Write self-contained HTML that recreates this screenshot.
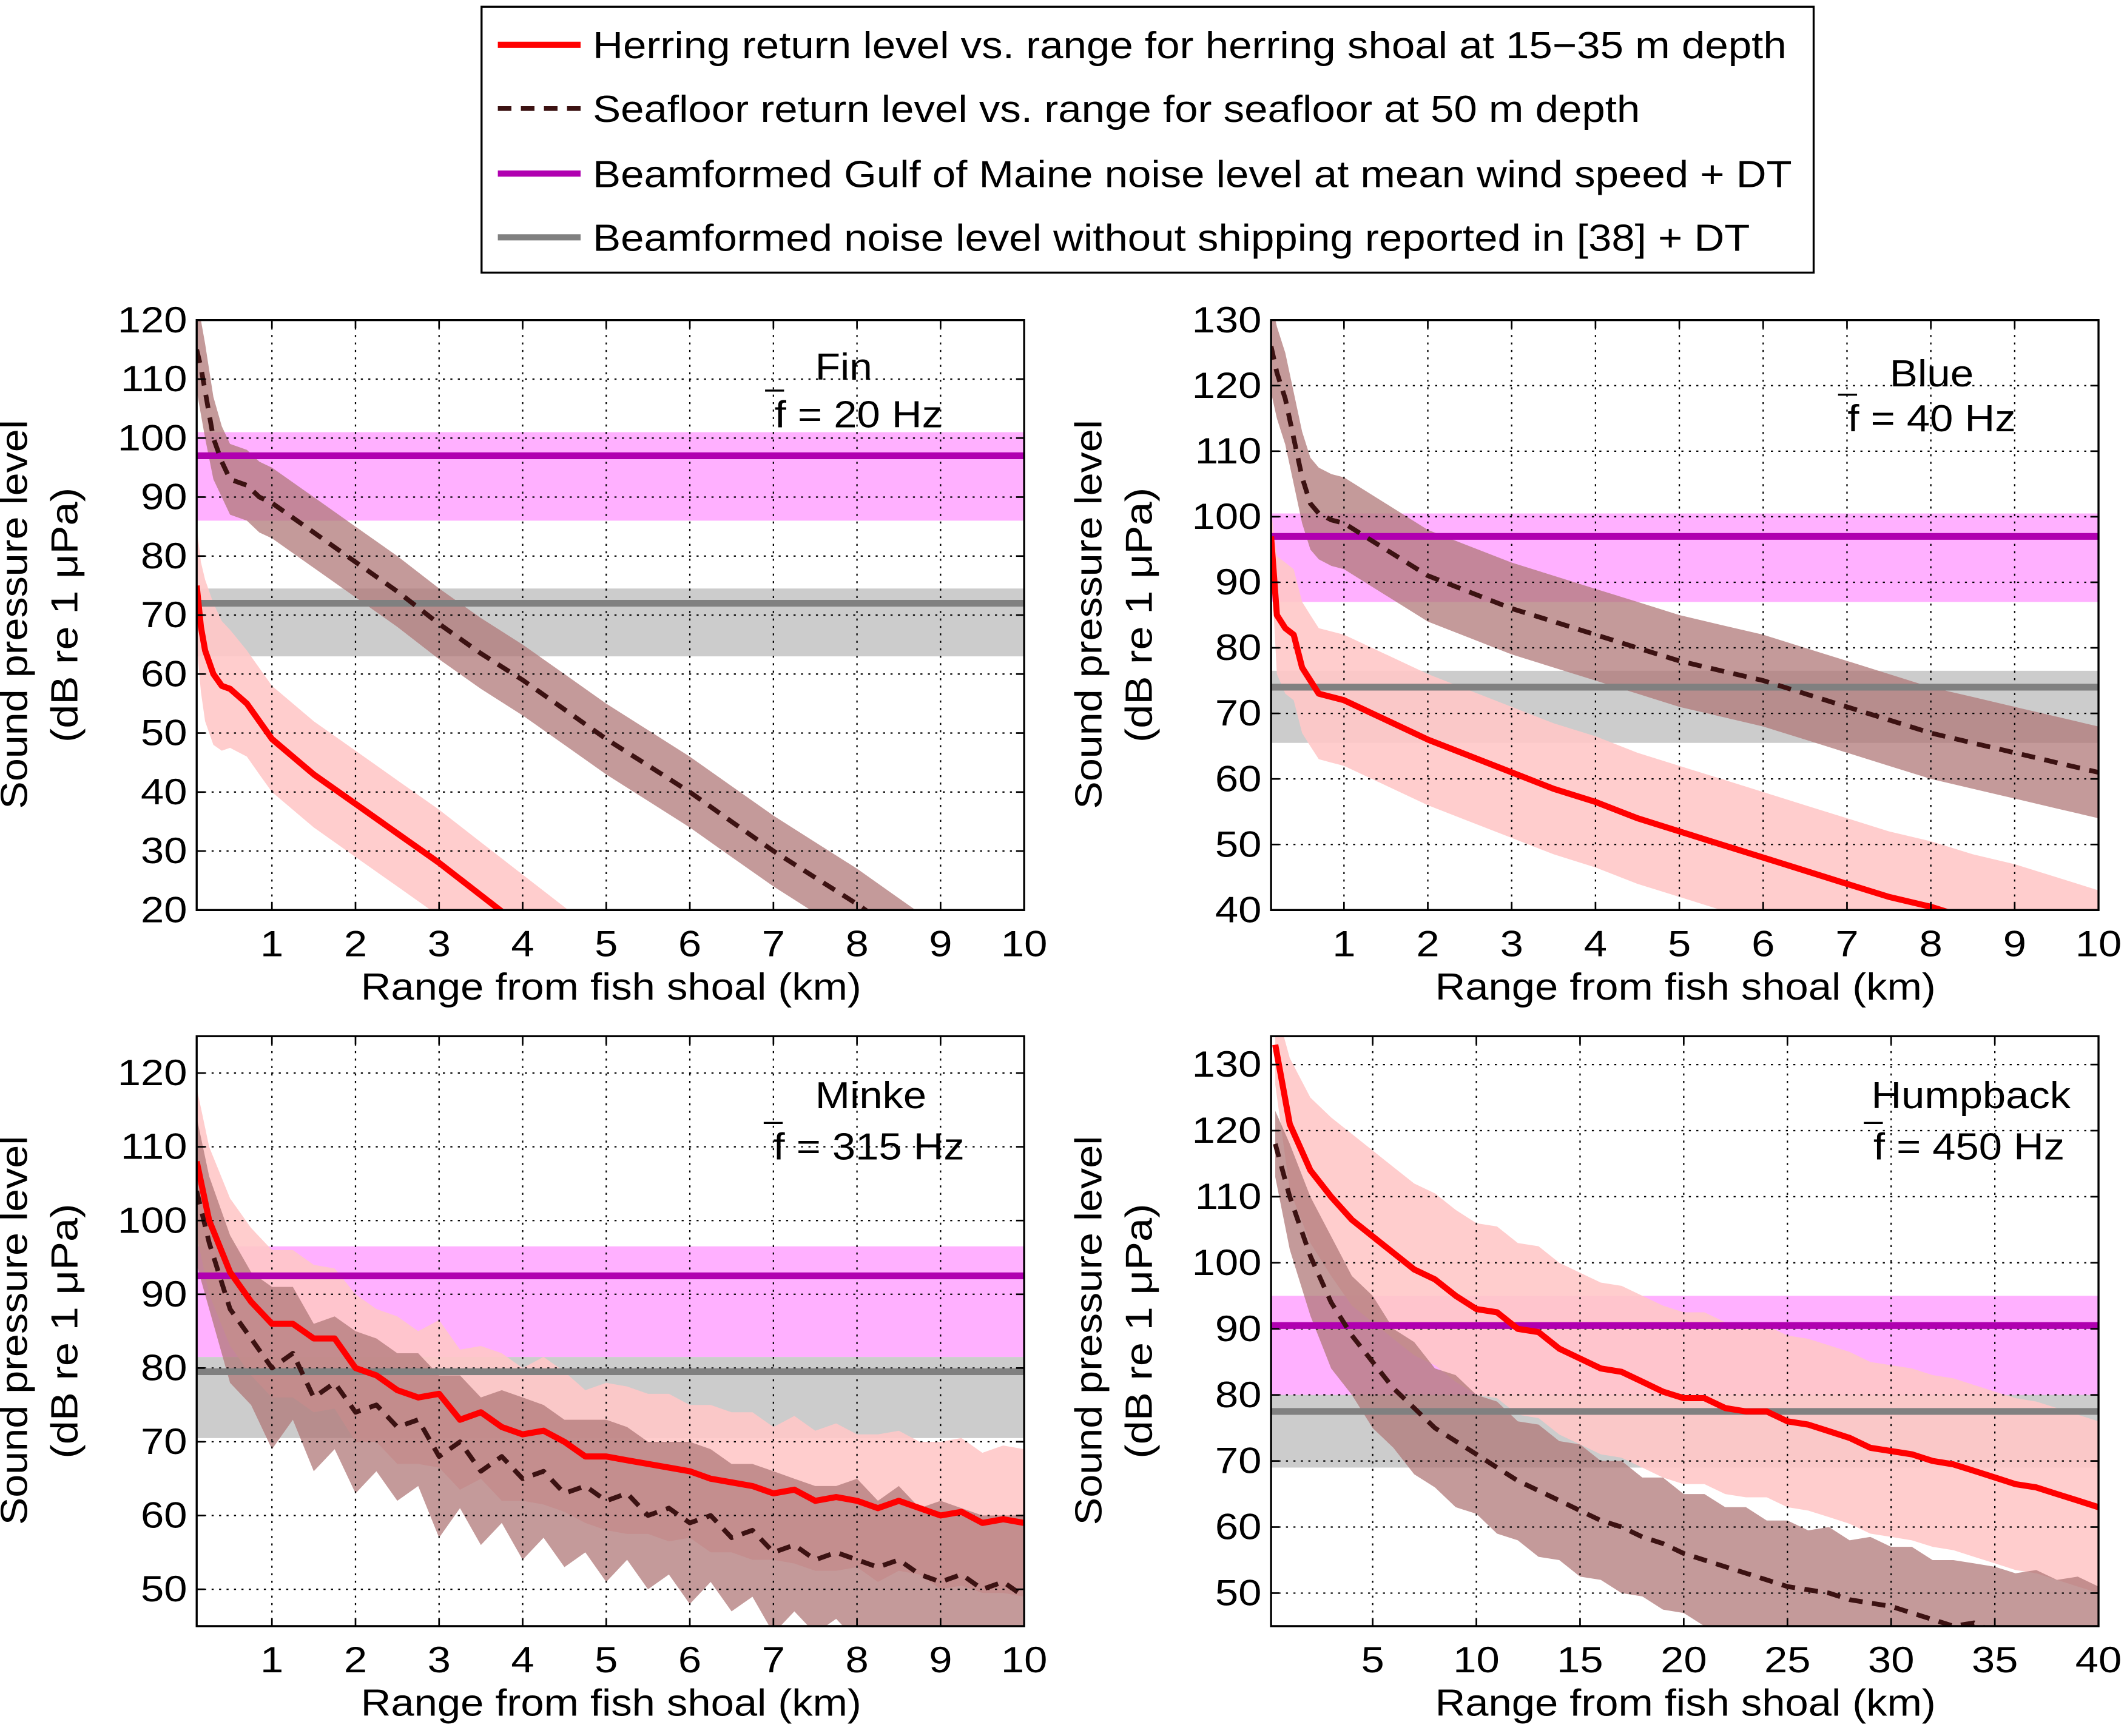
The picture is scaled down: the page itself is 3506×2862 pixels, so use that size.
<!DOCTYPE html>
<html><head><meta charset="utf-8"><style>
html,body{margin:0;padding:0;background:#fff}
svg{display:block}
text{font-family:"Liberation Sans",sans-serif;fill:#000}
</style></head><body>
<svg id="fig" xmlns="http://www.w3.org/2000/svg" width="3506" height="2862" viewBox="0 0 1568 1280" preserveAspectRatio="none">
<g>
<rect x="355" y="5" width="982" height="196" fill="#fff" stroke="#000" stroke-width="1.5"/>
<g><line x1="367" y1="33" x2="428" y2="33" stroke="#ff0000" stroke-width="4.5"/><text x="437" y="43" font-size="28" textLength="880" lengthAdjust="spacingAndGlyphs">Herring return level vs. range for herring shoal at 15−35 m depth</text></g>
<g><line x1="367" y1="80" x2="428" y2="80" stroke="#3c1212" stroke-width="3.5" stroke-dasharray="10,7"/><text x="437" y="90" font-size="28" textLength="772" lengthAdjust="spacingAndGlyphs">Seafloor return level vs. range for seafloor at 50 m depth</text></g>
<g><line x1="367" y1="128" x2="428" y2="128" stroke="#b000b0" stroke-width="4.5"/><text x="437" y="138" font-size="28" textLength="884" lengthAdjust="spacingAndGlyphs">Beamformed Gulf of Maine noise level at mean wind speed + DT</text></g>
<g><line x1="367" y1="175" x2="428" y2="175" stroke="#808080" stroke-width="4.5"/><text x="437" y="185" font-size="28" textLength="853" lengthAdjust="spacingAndGlyphs">Beamformed noise level without shipping reported in [38] + DT</text></g>
</g>
</svg>
<script>
// ---- Fin (20 Hz)
const finX = [0.1,0.15,0.2,0.3,0.4,0.5,0.7,0.85,1,1.5,2,2.5,3,3.5,4,4.5,5,5.5,6,6.5,7,7.5,8,8.5,9,9.5,10];
const finHer = [75,68,64,60,58,57.5,55,52,49,43,38,33,28,22.5,17,11.5,6,1,-4,-9,-14,-19,-24,-29,-34,-39,-44];
const finHerW = [10,11,12,12,11,10,9,9,9,9,9,9,9,9,9,9,9,9,9,9,9,9,9,9,9,9,9];
const finSea = [115,112,108,100,96,93,92,90,89,84,79,74,68.5,63.5,59,54,49,44.5,40,35,30,25.5,21,16,11,6,1];
const finSeaW = [7,8,8,7,6,6,6,6,6,6,6,6,6,6,6,6,6,6,6,6,6,6,6,6,6,6,6];
const finNoise = [97,86,101];
const finQuiet = [72,63,74.5];
// ---- Blue (40 Hz)
const blueX = [0.13,0.2,0.3,0.4,0.5,0.6,0.7,0.85,1,1.5,2,2.5,3,3.5,4,4.5,5,5.5,6,6.5,7,7.5,8,8.5,9,9.5,10];
const blueHer = [97,85,83,82,77,75,73,72.5,72,69,66,63.5,61,58.5,56.5,54,52,50,48,46,44,42,40.5,38.5,37,35,33];
const blueHerW = [4,9,10,10,10,10,10,10,10,10,10,10,10,10,10,10,10,10,10,10,10,10,10,10,10,10,10];
const blueSea = [126,122,118,112,106,102,100.5,99.5,99,95,91,88.5,86,84,82,80,78,76.5,75,73,71,69,67,65.5,64,62.5,61];
const blueSeaW = [7,7,7,7,7,7,7,7,7,7,7,7,7,7,7,7,7,7,7,7,7,7,7,7,7,7,7];
const blueNoise = [97,87,100.5];
const blueQuiet = [74,65.5,76.5];
// ---- Minke (315 Hz)
const minkeX = [0.1,0.25,0.5,0.75,1,1.25,1.5,1.75,2,2.25,2.5,2.75,3,3.25,3.5,3.75,4,4.25,4.5,4.75,5,5.25,5.5,5.75,6,6.25,6.5,6.75,7,7.25,7.5,7.75,8,8.25,8.5,8.75,9,9.25,9.5,9.75,10];
const minkeHer = [108,100,93,89,86,86,84,84,80,79,77,76,76.5,73,74,72,71,71.5,70,68,68,67.5,67,66.5,66,65,64.5,64,63,63.5,62,62.5,62,61,62,61,60,60.5,59,59.5,59];
const minkeHerW = [10,10,10,10,10,10,10,9.5,10,9,10,9,10,9.5,9,10,9,10,9.5,9,10,10,9.5,10,9,10,9.5,10,9,10,9.5,10,9,10,9.5,9,10,10,9.5,10,10];
const minkeSea = [104,97,88,84,80,82,76,78,74,75,72,73,68,70,66,68,65,66,63,64,62,63,60,61,59,60,57,58,55,56,54,55,54,53,54,52,51,52,50,51,49];
const minkeSeaW = [10,9,10,9,11,9,10,9,11,9,10,9,11,9,10,9,11,9,10,9,11,9,10,9,11,9,10,9,11,9,10,9,11,9,10,9,11,9,10,9,11];
const minkeNoise = [92.5,81.5,96.5];
const minkeQuiet = [79.5,70.5,81.5];
// ---- Humpback (450 Hz)
const humpX = [0.3,1,2,3,4,5,6,7,8,9,10,11,12,13,14,15,16,17,18,19,20,21,22,23,24,25,26,27,28,29,30,31,32,33,34,35,36,37,38,39,40];
const humpHer = [133,121,114,110,106.5,104,101.5,99,97.5,95,93,92.5,90,89.5,87,85.5,84,83.5,82,80.5,79.5,79.5,78,77.5,77.5,76,75.5,74.5,73.5,72,71.5,71,70,69.5,68.5,67.5,66.5,66,65,64,63];
const humpHerW = [6,10,11,12,13,13,13,13,13,13,13,13,13,13,13,13,13,13,13,13,13,13,13,13,13,13,13,13,13,13,13,13,13,13,13,13,13,13,13,13,13];
const humpSea = [118,110,101,94,89,85,81,78,75,73,71,69,67,65.5,64,62.5,61,60,58.5,57.5,56,55,54,53,52,51,50.5,50,49,48.5,48,47,46,45,45.5,44,44,43.5,43,42.5,42];
const humpSeaW = [5,8,9,10,9,10,9,10,9,10,9,10,9,10,9,10,9,10,9,10,9,10,9,10,9,10,9,10,9,10,9,10,9,10,9,10,9,10,9,10,9];
const humpNoise = [90.5,80,95];
const humpQuiet = [77.5,69,80];

const xTicksKm = [1,2,3,4,5,6,7,8,9,10];
const xTicksHump = [5,10,15,20,25,30,35,40];

const panels = [
 {name:'fin',label:'Fin',lw:42,freq:'f = 20 Hz',fw:124,lx:622,ly:280,fx:571,fy:315,x0:145,x1:755,y0:236,y1:671,xmin:0.1,xmax:10,ymin:20,ymax:120,xt:xTicksKm,yt:[20,30,40,50,60,70,80,90,100,110,120],X:finX,H:finHer,HW:finHerW,S:finSea,SW:finSeaW,N:finNoise,Q:finQuiet},
 {name:'blue',label:'Blue',lw:62,freq:'f = 40 Hz',fw:124,lx:1424,ly:285,fx:1362,fy:318,x0:937,x1:1547,y0:236,y1:671,xmin:0.13,xmax:10,ymin:40,ymax:130,xt:xTicksKm,yt:[40,50,60,70,80,90,100,110,120,130],X:blueX,H:blueHer,HW:blueHerW,S:blueSea,SW:blueSeaW,N:blueNoise,Q:blueQuiet},
 {name:'minke',label:'Minke',lw:82,freq:'f = 315 Hz',fw:141,lx:642,ly:817,fx:570,fy:855,x0:145,x1:755,y0:764,y1:1199,xmin:0.1,xmax:10,ymin:45,ymax:125,xt:xTicksKm,yt:[50,60,70,80,90,100,110,120],X:minkeX,H:minkeHer,HW:minkeHerW,S:minkeSea,SW:minkeSeaW,N:minkeNoise,Q:minkeQuiet},
 {name:'humpback',label:'Humpback',lw:147,freq:'f = 450 Hz',fw:141,lx:1453,ly:817,fx:1381,fy:855,x0:937,x1:1547,y0:764,y1:1199,xmin:0.1,xmax:40,ymin:45,ymax:134.3,xt:xTicksHump,yt:[50,60,70,80,90,100,110,120,130],X:humpX,H:humpHer,HW:humpHerW,S:humpSea,SW:humpSeaW,N:humpNoise,Q:humpQuiet}
];
const NS='http://www.w3.org/2000/svg';
const svg=document.getElementById('fig');
function mk(tag,attrs,parent){const e=document.createElementNS(NS,tag);for(const k in attrs)e.setAttribute(k,attrs[k]);parent.appendChild(e);return e;}
panels.forEach((p,pi)=>{
 const sx=v=>p.x0+(v-p.xmin)/(p.xmax-p.xmin)*(p.x1-p.x0);
 const sy=v=>p.y1-(v-p.ymin)/(p.ymax-p.ymin)*(p.y1-p.y0);
 const g=mk('g',{},svg);
 
 
 const cid='clip'+pi;
 const cp=mk('clipPath',{id:cid},g);
 mk('rect',{x:p.x0,y:p.y0,width:p.x1-p.x0,height:p.y1-p.y0},cp);
 const pg=mk('g',{'clip-path':'url(#'+cid+')'},g);
 
 
 const nb=mk('rect',{x:p.x0,y:sy(p.N[2]),width:p.x1-p.x0,height:sy(p.N[1])-sy(p.N[2]),fill:'#ffb0ff'},pg);
 
 
 const qb=mk('rect',{x:p.x0,y:sy(p.Q[2]),width:p.x1-p.x0,height:sy(p.Q[1])-sy(p.Q[2]),fill:'#cccccc'},pg);
 
 
 function band(M,W,fill,nm,op){
  let d='';
  p.X.forEach((x,i)=>{d+=(i?'L':'M')+sx(x).toFixed(1)+','+sy(M[i]+W[i]).toFixed(1);});
  for(let i=p.X.length-1;i>=0;i--)d+='L'+sx(p.X[i]).toFixed(1)+','+sy(M[i]-W[i]).toFixed(1);
  const e=mk('path',{d:d+'Z',fill:fill,opacity:op},pg);
  
  
 }
 band(p.H,p.HW,'#ffc8c8','herring-band',0.9);
 band(p.S,p.SW,'#b07878','seafloor-band',0.75);
 function line(M,stroke,w,dash,nm){
  let d='';
  p.X.forEach((x,i)=>{d+=(i?'L':'M')+sx(x).toFixed(1)+','+sy(M[i]).toFixed(1);});
  const e=mk('path',{d:d,fill:'none',stroke:stroke,'stroke-width':w,'stroke-dasharray':dash,'stroke-linejoin':'round'},pg);
  
  
 }
 p.xt.forEach(t=>{const e=mk('line',{x1:sx(t),x2:sx(t),y1:p.y0,y2:p.y1,stroke:'#000','stroke-width':1,'stroke-dasharray':'1.5,4'},pg);});
 p.yt.forEach(t=>{const e=mk('line',{x1:p.x0,x2:p.x1,y1:sy(t),y2:sy(t),stroke:'#000','stroke-width':1,'stroke-dasharray':'1.5,4'},pg);});
 const nl=mk('line',{x1:p.x0,x2:p.x1,y1:sy(p.N[0]),y2:sy(p.N[0]),stroke:'#b000b0','stroke-width':5},pg);
 
 
 const ql=mk('line',{x1:p.x0,x2:p.x1,y1:sy(p.Q[0]),y2:sy(p.Q[0]),stroke:'#808080','stroke-width':5},pg);
 
 
 line(p.S,'#3c1212',3.5,'10,7','seafloor-line');
 line(p.H,'#ff0000',4.5,'none','herring-line');
 const ax=mk('rect',{x:p.x0,y:p.y0,width:p.x1-p.x0,height:p.y1-p.y0,fill:'none',stroke:'#000','stroke-width':1.5},g);
 
 
 p.xt.forEach(t=>{
  mk('line',{x1:sx(t),x2:sx(t),y1:p.y1,y2:p.y1-6,stroke:'#000','stroke-width':1.2},g);
  mk('line',{x1:sx(t),x2:sx(t),y1:p.y0,y2:p.y0+6,stroke:'#000','stroke-width':1.2},g);
  const e=mk('text',{x:sx(t),y:p.y1+34,'font-size':27,'text-anchor':'middle',transform:'translate('+sx(t)+',0) scale(1.14,1) translate('+(-sx(t))+',0)'},g);e.textContent=t;
  
  
 });
 p.yt.forEach(t=>{
  mk('line',{x1:p.x0,x2:p.x0+6,y1:sy(t),y2:sy(t),stroke:'#000','stroke-width':1.2},g);
  mk('line',{x1:p.x1,x2:p.x1-6,y1:sy(t),y2:sy(t),stroke:'#000','stroke-width':1.2},g);
  const xx=p.x0-7;
  const e=mk('text',{x:xx,y:sy(t)+9,'font-size':27,'text-anchor':'end',transform:'translate('+xx+',0) scale(1.14,1) translate('+(-xx)+',0)'},g);e.textContent=t;
  
  
 });
 const cx=(p.x0+p.x1)/2;
 const xt=mk('text',{x:cx-184,y:p.y1+66,'font-size':28,textLength:369,lengthAdjust:'spacingAndGlyphs'},g);xt.textContent='Range from fish shoal (km)';
 
 
 const cy=(p.y0+p.y1)/2, bx=p.x0-125;
 const y1t=mk('text',{x:bx-143,y:cy,'font-size':28,textLength:287,lengthAdjust:'spacingAndGlyphs',transform:'rotate(-90 '+bx+' '+cy+')'},g);y1t.textContent='Sound pressure level';
 
 
 const bx2=p.x0-88;
 const y2t=mk('text',{x:bx2-94,y:cy,'font-size':28,textLength:188,lengthAdjust:'spacingAndGlyphs',transform:'rotate(-90 '+bx2+' '+cy+')'},g);y2t.textContent='(dB re 1 μPa)';
 
 
 const lt=mk('text',{x:p.lx-p.lw/2,y:p.ly,'font-size':28,textLength:p.lw,lengthAdjust:'spacingAndGlyphs'},g);lt.textContent=p.label;
 
 
 const ft=mk('text',{x:p.fx,y:p.fy,'font-size':28,textLength:p.fw,lengthAdjust:'spacingAndGlyphs'},g);ft.textContent=p.freq;
 
 
 mk('line',{x1:p.fx-7,x2:p.fx+7,y1:p.fy-27,y2:p.fy-27,stroke:'#000','stroke-width':1.5},g);
});
</script>
</body></html>
